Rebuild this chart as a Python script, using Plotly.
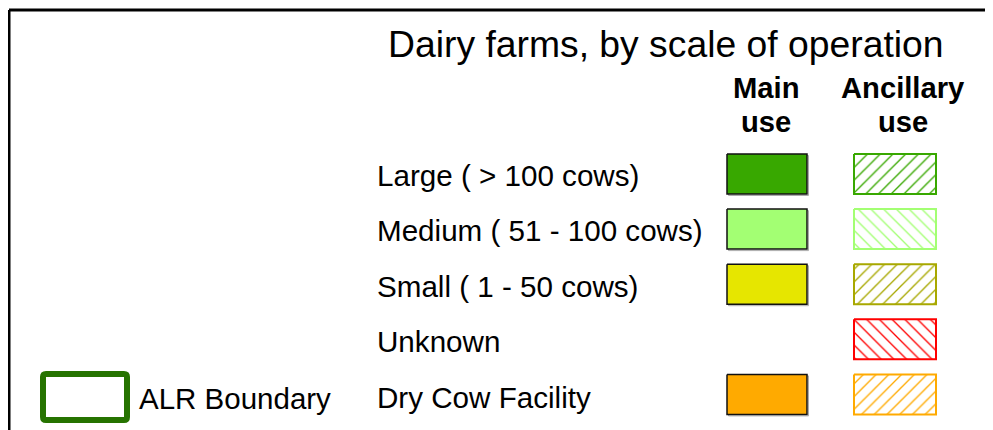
import plotly.graph_objects as go

# ---- data ----
title_text = "Dairy farms, by scale of operation"
header_main = ["Main", "use"]
header_anc = ["Ancillary", "use"]
categories = ["Large ( > 100 cows)", "Medium ( 51 - 100 cows)", "Small ( 1 - 50 cows)",
              "Unknown", "Dry Cow Facility"]
main_colors = ["#38A800", "#A3FF73", "#E6E600", None, "#FFAA00"]
anc_colors = ["#38A800", "#A3FF73", "#A8A800", "#FF0000", "#FFAA00"]
anc_hatch = ["/", "\\", "/", "\\", "/"]
boundary_label = "ALR Boundary"
boundary_color = "#267300"

# page is 993x430; the html body has an 8px margin, so the figure starts at (8, 8)
PAGE_W, PAGE_H, OFF = 993, 430, 8
W, H = PAGE_W - OFF, PAGE_H - OFF
FONT = "Liberation Sans, Arial, sans-serif"

fig = go.Figure()


def rect_xy(x0, y0, x1, y1):
    return [x0, x1, x1, x0, x0], [y0, y0, y1, y1, y0]


annotations = []
row_top0, row_step, box_h = 154, 55.1, 40
main_x = (727, 807)
anc_x = (854, 936)

for i, cat in enumerate(categories):
    y0 = row_top0 + i * row_step
    y1 = y0 + box_h
    if main_colors[i]:
        xs, ys = rect_xy(main_x[0] + 1.5, y0 + 1.5, main_x[1] + 1.5, y1 + 1.5)
        fig.add_trace(go.Scatter(x=xs, y=ys, mode="lines", line=dict(color="#aaaaaa", width=1),
                                 hoverinfo="skip", showlegend=False))
        xs, ys = rect_xy(main_x[0], y0, main_x[1], y1)
        fig.add_trace(go.Scatter(x=xs, y=ys, mode="lines", fill="toself",
                                 fillcolor=main_colors[i], line=dict(color="#111111", width=1.5),
                                 hoverinfo="skip", showlegend=False))
    xs, ys = rect_xy(anc_x[0], y0, anc_x[1], y1)
    fig.add_trace(go.Scatter(x=xs, y=ys, mode="lines", fill="toself",
                             fillcolor="white",
                             fillpattern=dict(shape=anc_hatch[i], fgcolor=anc_colors[i],
                                              fgopacity=1, bgcolor="white", size=9,
                                              solidity=0.15),
                             line=dict(color=anc_colors[i], width=2),
                             hoverinfo="skip", showlegend=False))
    annotations.append(dict(x=375, y=y0 + 21.5 + 0.3 * i, text=cat, xanchor="left",
                            yanchor="middle", showarrow=False,
                            font=dict(family=FONT, size=29.6, color="#000000")))

# headers
for cx, lines in [(766, header_main), (903, header_anc)]:
    for k, t in enumerate(lines):
        annotations.append(dict(x=cx, y=88 + k * 34, text="<b>" + t + "</b>", xanchor="center",
                                yanchor="middle", showarrow=False,
                                font=dict(family=FONT, size=29.2, color="#000000")))

# title
annotations.append(dict(x=666, y=44, text=title_text, xanchor="center", yanchor="middle",
                        showarrow=False, font=dict(family=FONT, size=37.3, color="#000000")))

# ALR boundary
annotations.append(dict(x=137, y=398, text=boundary_label, xanchor="left", yanchor="middle",
                        showarrow=False, font=dict(family=FONT, size=29.5, color="#000000")))

shapes = [
    dict(type="line", xref="x", yref="y", x0=9, y0=10, x1=PAGE_W + 20, y1=10,
         line=dict(color="#000000", width=3)),
    dict(type="line", xref="x", yref="y", x0=9, y0=10, x1=9, y1=PAGE_H + 20,
         line=dict(color="#000000", width=3)),
    dict(type="path", xref="x", yref="y",
         path="M 46 374 L 124 374 Q 127 374 127 377 L 127 417 Q 127 420 124 420 "
              "L 46 420 Q 43 420 43 417 L 43 377 Q 43 374 46 374 Z",
         line=dict(color=boundary_color, width=6), fillcolor="rgba(0,0,0,0)"),
]

fig.update_layout(
    width=W, height=H,
    margin=dict(l=0, r=0, t=0, b=0),
    paper_bgcolor="white", plot_bgcolor="white",
    xaxis=dict(range=[OFF, PAGE_W], visible=False, fixedrange=True),
    yaxis=dict(range=[PAGE_H, OFF], visible=False, fixedrange=True),
    annotations=annotations,
    shapes=shapes,
    showlegend=False,
)

fig.write_html("out.html")
